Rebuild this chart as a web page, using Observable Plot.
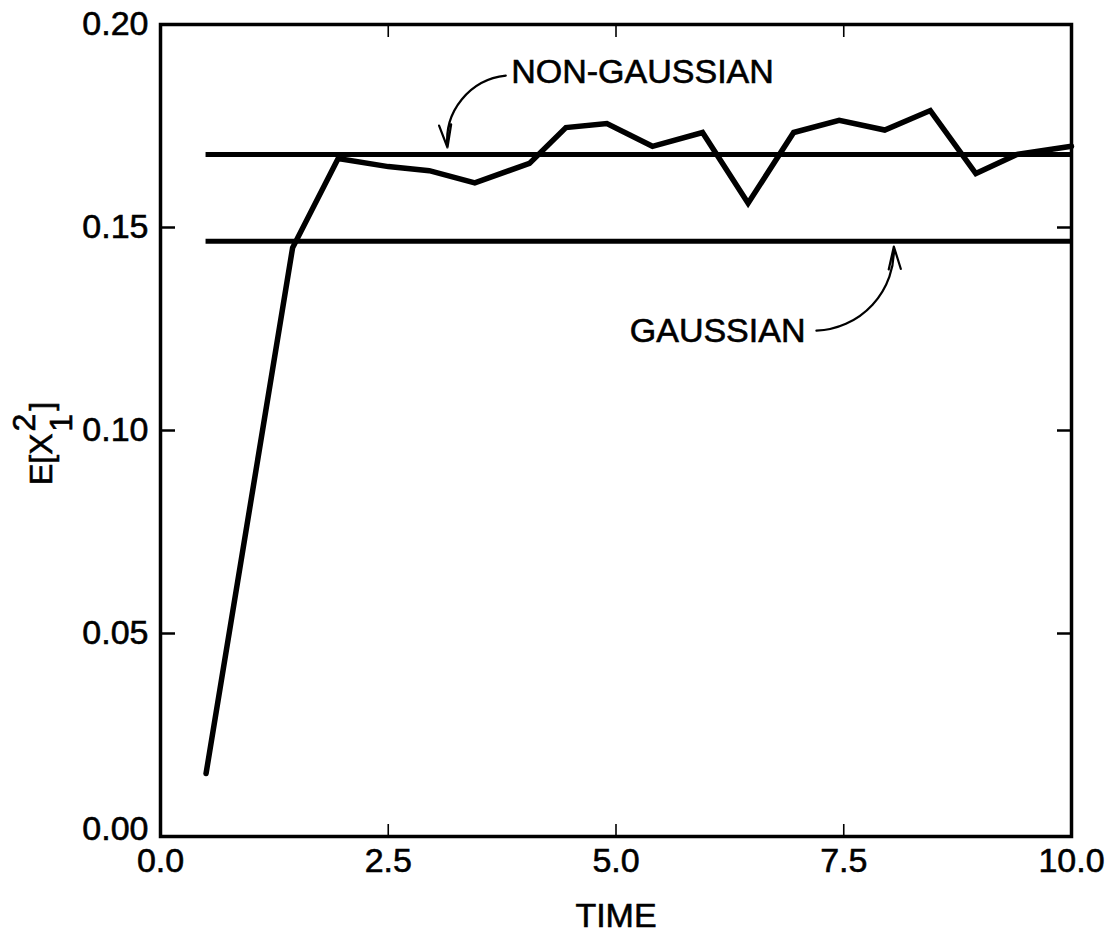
<!DOCTYPE html>
<html>
<head>
<meta charset="utf-8">
<script src="https://cdn.jsdelivr.net/npm/d3@7"></script>
<script src="https://cdn.jsdelivr.net/npm/@observablehq/plot@0.6"></script>
<style>
  body { margin: 0; background: #fff; }
  #chart svg { font-family: "Liberation Sans", Arial, Helvetica, sans-serif; }
  #chart svg text { stroke: #000; stroke-width: 0.6px; }
</style>
</head>
<body>
<div id="chart"></div>
<script>
// Simulated second moment E[X1^2] over time
const time = [0.5, 1.45, 1.95, 2.5, 2.95, 3.45, 4.05, 4.45, 4.9, 5.4, 5.95, 6.45, 6.95, 7.45, 7.95, 8.45, 8.95, 9.4, 10.0];
const meanSquare = [0.0155, 0.145, 0.167, 0.165, 0.164, 0.161, 0.1658, 0.1746, 0.1756, 0.170, 0.1734, 0.156, 0.1734, 0.1764, 0.174, 0.1788, 0.1633, 0.168, 0.170];

// Stationary levels predicted by the two closures
const levelNames = ["NON-GAUSSIAN", "GAUSSIAN"];
const levelValues = [0.168, 0.1466];
const levelStart = 0.5;
const levelEnd = 10;

// Annotation labels and their curved leader arrows
const leftNote = {text: "NON-GAUSSIAN", x: 3.85, y: 0.1882};
const rightNote = {text: "GAUSSIAN", x: 7.08, y: 0.1246};
const arrowX1 = [3.79, 7.2];
const arrowY1 = [0.1874, 0.1246];
const arrowX2 = [3.15, 8.05];
const arrowY2 = [0.1697, 0.1453];

// Axis ticks
const xTickLabels = [0, 2.5, 5, 7.5, 10];
const yTickLabels = [0.05, 0.10, 0.15, 0.20];
const yOriginLabel = [0];
const xInnerTicks = [2.5, 5, 7.5];
const yInnerTicks = [0.05, 0.10, 0.15];
const xTitle = "TIME";

const series = time.map((t, i) => ({t, v: meanSquare[i]}));
const levels = levelValues.map((v, i) => ({name: levelNames[i], v}));
const arrows = arrowX1.map((x1, i) => ({x1, y1: arrowY1[i], x2: arrowX2[i], y2: arrowY2[i]}));

const fontSize = 34;
const yFormat = d3.format(".2f");

const chart = Plot.plot({
  width: 1106,
  height: 934,
  marginLeft: 160,
  marginRight: 35,
  marginTop: 24,
  marginBottom: 98,
  style: {background: "#fff", color: "#000", fontSize: `${fontSize}px`},
  x: {domain: [0, 10]},
  y: {domain: [0, 0.2]},
  marks: [
    // tick labels
    Plot.axisX({ticks: xTickLabels, anchor: "bottom", tickSize: 0, tickPadding: 11, tickFormat: d3.format(".1f"), label: null, fontSize}),
    Plot.axisY({ticks: yTickLabels, anchor: "left", tickSize: 0, tickPadding: 12, tickFormat: yFormat, label: null, fontSize}),
    Plot.axisY({ticks: yOriginLabel, anchor: "left", tickSize: 0, tickPadding: 12, tickFormat: yFormat, label: null, fontSize, dy: -7}),
    // inward tick marks on all four sides
    Plot.axisX({ticks: xInnerTicks, anchor: "bottom", tickSize: -12, tickFormat: () => "", label: null, strokeWidth: 1.6}),
    Plot.axisX({ticks: xInnerTicks, anchor: "top", tickSize: -12, tickFormat: () => "", label: null, strokeWidth: 1.6}),
    Plot.axisY({ticks: yInnerTicks, anchor: "left", tickSize: -15, tickFormat: () => "", label: null, strokeWidth: 2.5}),
    Plot.axisY({ticks: yInnerTicks, anchor: "right", tickSize: -15, tickFormat: () => "", label: null, strokeWidth: 2.5}),
    Plot.frame({stroke: "#000", strokeWidth: 3.5}),
    // closure levels
    Plot.ruleY(levels, {y: "v", x1: levelStart, x2: levelEnd, stroke: "#000", strokeWidth: 5}),
    // simulation
    Plot.line(series, {x: "t", y: "v", stroke: "#000", strokeWidth: 5.5, strokeLinejoin: "miter", strokeMiterlimit: 3}),
    // annotations
    Plot.arrow(arrows, {x1: "x1", y1: "y1", x2: "x2", y2: "y2", bend: -45, stroke: "#000", strokeWidth: 2.2, headLength: 16, headAngle: 30}),
    Plot.text([leftNote], {x: "x", y: "y", text: "text", textAnchor: "start", fontSize: 34, fill: "#000"}),
    Plot.text([rightNote], {x: "x", y: "y", text: "text", textAnchor: "end", fontSize: 34, fill: "#000"}),
    Plot.text([xTitle], {frameAnchor: "bottom", text: d => d, lineAnchor: "top", dy: 66, fontSize: 34, fill: "#000"})
  ]
});

document.getElementById("chart").appendChild(chart);

// Y-axis title E[X_1^2] with stacked sub/superscript
const svg = d3.select(chart);
const yTitle = svg.append("text")
  .attr("transform", "translate(52,485) rotate(-90)")
  .attr("font-size", 32)
  .attr("fill", "#000")
  .attr("text-anchor", "start");
yTitle.append("tspan").text("E[X");
yTitle.append("tspan").attr("dx", 2).attr("dy", -17).text("2");
yTitle.append("tspan").attr("dx", -18).attr("dy", 37).text("1");
yTitle.append("tspan").attr("dx", 3).attr("dy", -20).text("]");
</script>
</body>
</html>
